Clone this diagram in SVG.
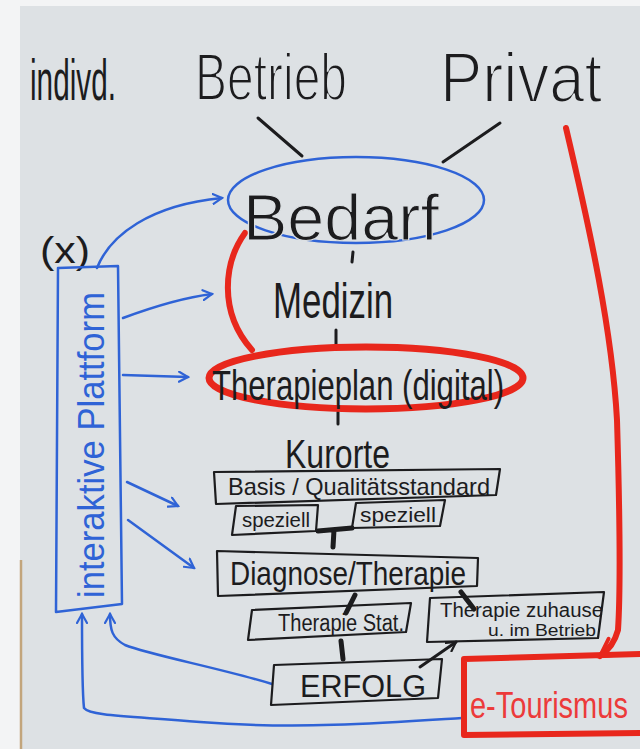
<svg xmlns="http://www.w3.org/2000/svg" width="640" height="749" viewBox="0 0 640 749">
<defs>
<style>
.ink{font-family:"Liberation Sans","DejaVu Sans",sans-serif;fill:#1c1c1e;}
.blu{font-family:"Liberation Sans","DejaVu Sans",sans-serif;fill:#2f63d6;}
.redt{font-family:"Liberation Sans","DejaVu Sans",sans-serif;fill:#ec3a3a;}
.thin{stroke:#dde1e4;}
.bx{fill:none;stroke:#1c1c1e;stroke-width:2.2;stroke-linejoin:round;}
.k{fill:none;stroke:#1c1c1e;stroke-width:3;stroke-linecap:round;}
.kt{fill:none;stroke:#1c1c1e;stroke-width:5;stroke-linecap:round;}
.b{fill:none;stroke:#2f63d6;stroke-width:2.5;stroke-linecap:round;stroke-linejoin:round;}
.r{fill:none;stroke:#e8271c;stroke-width:6;stroke-linecap:round;stroke-linejoin:round;}
</style>
<marker id="ab" viewBox="0 0 12 12" refX="10" refY="6" markerWidth="12" markerHeight="12" markerUnits="userSpaceOnUse" orient="auto">
<path d="M1,1 L10,6 L1,11" fill="none" stroke="#2f63d6" stroke-width="2.2" stroke-linecap="round"/>
</marker>
<marker id="ak" viewBox="0 0 12 12" refX="10" refY="6" markerWidth="12" markerHeight="12" markerUnits="userSpaceOnUse" orient="auto">
<path d="M1,1 L10,6 L1,11" fill="none" stroke="#1c1c1e" stroke-width="2.2" stroke-linecap="round"/>
</marker>
<marker id="ar" viewBox="0 0 10 10" refX="8" refY="5" markerWidth="24" markerHeight="24" markerUnits="userSpaceOnUse" orient="auto">
<path d="M1,1 L8,5 L1,9" fill="none" stroke="#e8271c" stroke-width="1.6" stroke-linecap="round"/>
</marker>
</defs>
<rect x="0" y="0" width="640" height="749" fill="#f3f4f5"/>
<rect x="20" y="6" width="620" height="743" fill="#dde1e4"/>
<line x1="21" y1="560" x2="21" y2="749" stroke="#c2a57c" stroke-width="2.5"/>

<g id="header">
<text class="ink" x="30" y="100" font-size="58" textLength="86" lengthAdjust="spacingAndGlyphs">indivd.</text>
<text class="ink thin" x="195" y="100" font-size="66" stroke-width="2" textLength="152" lengthAdjust="spacingAndGlyphs">Betrieb</text>
<text class="ink thin" x="440" y="102" font-size="70" stroke-width="2" textLength="162" lengthAdjust="spacingAndGlyphs">Privat</text>
</g>

<g id="connectors">
<line class="k" x1="258" y1="118" x2="302" y2="156"/>
<line class="k" x1="500" y1="123" x2="443" y2="162"/>
<path class="r" d="M245,233 C224,262 218,312 252,350" stroke-width="7"/>
<line class="k" x1="353" y1="252" x2="352" y2="262" stroke-width="2.5"/>
<line class="k" x1="336" y1="330" x2="336" y2="348" stroke-width="2.5"/>
<line class="k" x1="338" y1="412" x2="338" y2="424" stroke-width="2.5"/>
<path class="kt" d="M318,531 L352,528 M334,530 L333,547"/>
<line class="kt" x1="355" y1="595" x2="346" y2="613"/>
<line class="kt" x1="461" y1="592" x2="474" y2="609"/>
<line class="kt" x1="341" y1="641" x2="343" y2="659"/>
<path class="k" d="M420,667 L456,642" marker-end="url(#ak)"/>
<path class="b" d="M97,268 C110,235 150,205 222,198" marker-end="url(#ab)"/>
<path class="b" d="M123,318 C150,308 180,298 212,294" marker-end="url(#ab)"/>
<path class="b" d="M123,375 L188,377" marker-end="url(#ab)"/>
<path class="b" d="M127,482 L178,506" marker-end="url(#ab)"/>
<path class="b" d="M128,520 L194,568" marker-end="url(#ab)"/>
<path class="b" d="M272,684 C220,668 150,655 125,645 C112,638 110,630 110,614" marker-end="url(#ab)"/>
<path class="b" d="M462,718 C400,722 300,730 200,722 C130,716 90,716 84,708 C82,690 82,650 82,614" marker-end="url(#ab)"/>
<path class="r" d="M566,128 C590,230 612,330 617,420 C620,520 620,600 618,630 C614,645 606,652 600,656" marker-end="url(#ar)" stroke-width="5"/>
</g>

<g id="x-mark">
<text class="ink" x="40" y="263" font-size="36" textLength="50" lengthAdjust="spacingAndGlyphs">(x)</text>
</g>

<g id="plattform">
<path class="b" d="M58,268 L118,266 L122,604 L56,612 Z"/>
<text class="blu" transform="translate(104,598) rotate(-90)" font-size="36" textLength="306" lengthAdjust="spacingAndGlyphs">interaktive Plattform</text>
</g>

<g id="bedarf">
<ellipse cx="356" cy="200" rx="128" ry="43" fill="none" stroke="#2f63d6" stroke-width="2.5"/>
<text class="ink thin" x="243" y="240" font-size="64" stroke-width="1.2" textLength="196" lengthAdjust="spacingAndGlyphs">Bedarf</text>
</g>

<g id="medizin">
<text class="ink" x="273" y="318" font-size="50" textLength="120" lengthAdjust="spacingAndGlyphs">Medizin</text>
</g>

<g id="therapieplan">
<ellipse cx="366" cy="378" rx="157" ry="31" fill="none" stroke="#e8271c" stroke-width="7"/>
<text class="ink" x="212" y="400" font-size="42" textLength="292" lengthAdjust="spacingAndGlyphs">Therapieplan (digital)</text>
</g>

<g id="kurorte">
<text class="ink" x="285" y="468" font-size="40" textLength="105" lengthAdjust="spacingAndGlyphs">Kurorte</text>
</g>

<g id="basis">
<path class="bx" d="M214,472 L500,469 L496,495 L216,504 Z"/>
<text class="ink" x="228" y="495" font-size="24" textLength="262" lengthAdjust="spacingAndGlyphs">Basis / Qualitätsstandard</text>
</g>

<g id="speziell1">
<path class="bx" d="M236,506 L318,505 L316,531 L232,535 Z"/>
<text class="ink" x="242" y="527" font-size="20" textLength="68" lengthAdjust="spacingAndGlyphs">speziell</text>
</g>

<g id="speziell2">
<path class="bx" d="M356,503 L445,500 L440,526 L352,528 Z"/>
<text class="ink" x="360" y="522" font-size="20" textLength="76" lengthAdjust="spacingAndGlyphs">speziell</text>
</g>

<g id="diagnose">
<path class="bx" d="M217,551 L478,558 L477,586 L218,596 Z"/>
<text class="ink" x="230" y="585" font-size="34" textLength="236" lengthAdjust="spacingAndGlyphs">Diagnose/Therapie</text>
</g>

<g id="therapie-stat">
<path class="bx" d="M252,610 L411,603 L406,632 L248,640 Z"/>
<text class="ink" x="278" y="631" font-size="23" textLength="126" lengthAdjust="spacingAndGlyphs">Therapie Stat.</text>
</g>

<g id="therapie-zuhause">
<path class="bx" d="M430,598 L604,592 L598,638 L427,642 Z"/>
<text class="ink" x="440" y="617" font-size="20" textLength="163" lengthAdjust="spacingAndGlyphs">Therapie zuhause</text>
<text class="ink" x="488" y="636" font-size="16" textLength="108" lengthAdjust="spacingAndGlyphs">u. im Betrieb</text>
</g>

<g id="erfolg">
<path class="bx" d="M274,665 L442,659 L438,698 L271,705 Z"/>
<text class="ink" x="300" y="697" font-size="32" textLength="126" lengthAdjust="spacingAndGlyphs">ERFOLG</text>
</g>

<g id="e-tourismus">
<path class="r" d="M464,659 L642,654 M464,659 L464,735 L642,733"/>
<text class="redt" transform="translate(470,718) scale(1,1.3)" font-size="29">e-Tourismus</text>
</g>
</svg>
